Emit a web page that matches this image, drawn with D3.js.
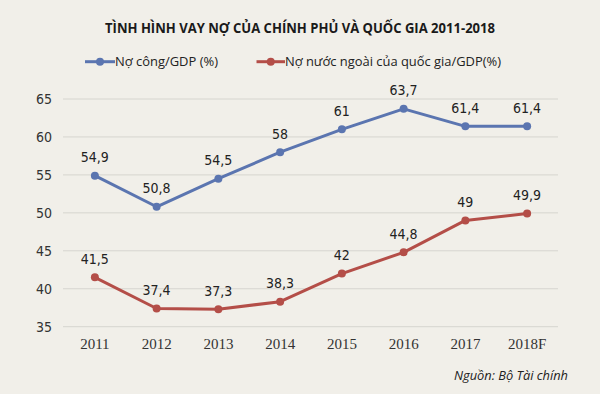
<!DOCTYPE html>
<html><head><meta charset="utf-8">
<script src="https://cdn.jsdelivr.net/npm/d3@7"></script>
<style>html,body{margin:0;padding:0;background:#f1efe9;}svg{display:block;}</style>
</head><body>
<script>
const years = ["2011","2012","2013","2014","2015","2016","2017","2018F"];
const publicDebt = [54.9, 50.8, 54.5, 58, 61, 63.7, 61.4, 61.4];
const foreignDebt = [41.5, 37.4, 37.3, 38.3, 42, 44.8, 49, 49.9];
const yTicks = [35, 40, 45, 50, 55, 60, 65];
const seriesNames = ["Nợ công/GDP (%)", "Nợ nước ngoài của quốc gia/GDP(%)"];
const title = "TÌNH HÌNH VAY NỢ CỦA CHÍNH PHỦ VÀ QUỐC GIA 2011-2018";
const source = "Nguồn: Bộ Tài chính";

const W = 600, H = 394;
const colors = ["#5b75b0", "#b44e48"];
const svg = d3.select("body").append("svg").attr("width", W).attr("height", H);
svg.append("rect").attr("width", W).attr("height", H).attr("fill", "#f1efe9");

const x = d3.scaleBand().domain(years).range([64, 558]);
const cx = d => x(d) + x.bandwidth() / 2;
const y = d3.scaleLinear().domain([35, 65]).range([326.7, 99]);

// grid
svg.append("g").selectAll("line").data(yTicks).join("line")
  .attr("x1", 63).attr("x2", 558)
  .attr("y1", d => y(d)).attr("y2", d => y(d))
  .attr("stroke", "#d6d5cf").attr("stroke-width", 1);

// y axis labels
const yAxis = svg.append("g").attr("transform", "translate(52,0)")
  .call(d3.axisLeft(y).tickValues(yTicks).tickSize(0).tickPadding(0));
yAxis.select(".domain").remove();
yAxis.selectAll("text").attr("font-family", "'DejaVu Sans Condensed','DejaVu Sans',sans-serif")
  .attr("font-stretch", "condensed").attr("font-size", 14).attr("fill", "#333");

// x axis labels
const xAxis = svg.append("g").attr("transform", "translate(0,338)")
  .call(d3.axisBottom(x).tickSize(0).tickPadding(0));
xAxis.select(".domain").remove();
xAxis.selectAll("text").attr("font-family", "'Liberation Serif','Times New Roman',serif")
  .attr("font-size", 15).attr("fill", "#333");

// series
const series = [publicDebt, foreignDebt];
const line = d3.line().x((d, i) => cx(years[i])).y(d => y(d));
series.forEach((vals, si) => {
  const g = svg.append("g");
  g.append("path").datum(vals).attr("d", line).attr("fill", "none")
    .attr("stroke", colors[si]).attr("stroke-width", 3).attr("stroke-linejoin", "round");
  g.selectAll("circle").data(vals).join("circle")
    .attr("cx", (d, i) => cx(years[i])).attr("cy", d => y(d)).attr("r", 4)
    .attr("fill", colors[si]);
  g.selectAll("text").data(vals).join("text")
    .attr("x", (d, i) => cx(years[i])).attr("y", d => y(d) - 13.5)
    .attr("text-anchor", "middle")
    .attr("font-family", "'DejaVu Sans Condensed','DejaVu Sans',sans-serif")
    .attr("font-stretch", "condensed").attr("font-size", 14).attr("fill", "#222")
    .text(d => String(d).replace(".", ","));
});

// title
svg.append("text").attr("x", 300).attr("y", 33.3).attr("text-anchor", "middle")
  .attr("font-family", "'Open Sans',sans-serif").attr("font-weight", "bold")
  .attr("font-size", 15).attr("fill", "#1a1a1a")
  .attr("textLength", 390).attr("lengthAdjust", "spacingAndGlyphs")
  .text(title);

// legend
const legend = [
  {x1: 85, x2: 115, tw: 103},
  {x1: 256.5, x2: 285, tw: 216}
];
legend.forEach((l, i) => {
  const g = svg.append("g");
  g.append("line").attr("x1", l.x1).attr("x2", l.x2).attr("y1", 61.7).attr("y2", 61.7)
    .attr("stroke", colors[i]).attr("stroke-width", 3);
  g.append("circle").attr("cx", (l.x1 + l.x2) / 2).attr("cy", 61.7).attr("r", 4).attr("fill", colors[i]);
  g.append("text").attr("x", l.x2).attr("y", 66)
    .attr("font-family", "'Open Sans',sans-serif").attr("font-size", 13).attr("fill", "#222")
    .attr("textLength", l.tw).attr("lengthAdjust", "spacingAndGlyphs")
    .text(seriesNames[i]);
});

// source
svg.append("text").attr("x", 568).attr("y", 380).attr("text-anchor", "end")
  .attr("font-family", "'Open Sans',sans-serif").attr("font-style", "italic")
  .attr("font-size", 13).attr("fill", "#222")
  .attr("textLength", 114).attr("lengthAdjust", "spacingAndGlyphs")
  .text(source);
</script>
</body></html>
